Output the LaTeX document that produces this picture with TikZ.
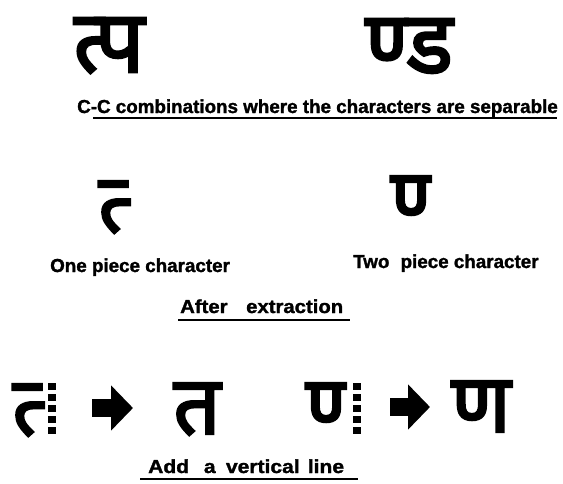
\documentclass[tikz,border=0pt]{standalone}
\usepackage{fontspec}
\setmainfont{Liberation Sans}
\newfontfamily\deva[Script=Devanagari,FakeBold=3]{Noto Sans}
\newfontfamily\lblfont[FakeBold=1.5]{Liberation Sans Bold}
\usetikzlibrary{arrows.meta}
\begin{document}
\begin{tikzpicture}[x=1pt,y=-1pt,
  glyph/.style={font=\deva\fontsize{82}{82}\selectfont, inner sep=0pt, anchor=base},
  bigglyph/.style={glyph, font=\deva\fontsize{87}{87}\selectfont},
  lbl/.style={font=\lblfont\fontsize{18.8}{18.8}\selectfont, inner sep=0pt, anchor=base west},
  uline/.style={line width=2pt},
  dotline/.style={line width=8pt, dash pattern=on 7pt off 4pt},
  blockarrow/.style={line width=18pt, -{Triangle[length=22pt,width=44pt]}}]
\useasboundingbox[fill=white] (0,0) rectangle (563,483);
% top row
\node[bigglyph] (tpa) at (109,72) {त्प};
\node[bigglyph] (nda) at (409,73) {ण्ड};
\node[lbl] (cap) at (77,113) {C-C combinations where the characters are separable};
\draw[uline] (93,118) -- (557,118);
% middle row
\node[glyph] (halft) at (113,232) {त्^^^^200d};
\node[glyph] (halfn) at (410,227) {ण्^^^^200d};
\node[lbl] (one) at (50,272) {One piece character};
\node[lbl] (two) at (353,268) {Two\hspace{6pt} piece character};
\node[lbl] (ext) at (180,313) {\scalebox{1.08}[1]{After\hspace{12pt} extraction}};
\draw[uline] (178,320) -- (350,320);
% bottom row
\node[glyph] (bt1) at (27,435) {त्^^^^200d};
\coordinate (d1a) at (52,383);
\coordinate (d1b) at (52,435);
\draw[dotline] (d1a) -- (d1b);
\coordinate (a1s) at (92,408);
\coordinate (a1e) at (133,408);
\draw[blockarrow] (a1s) -- (a1e);
\node[glyph] (bt2) at (197,434) {त};
\node[glyph] (bn1) at (325,434) {ण्^^^^200d};
\coordinate (d2a) at (357,383);
\coordinate (d2b) at (357,435);
\draw[dotline] (d2a) -- (d2b);
\coordinate (a2s) at (390,407);
\coordinate (a2e) at (430,407);
\draw[blockarrow] (a2s) -- (a2e);
\node[glyph] (bn2) at (481,432) {ण};
\node[lbl] (add) at (148,473) {\scalebox{1.12}[1]{Add\hspace{8pt} a\hspace{4pt} vertical\hspace{2pt} line}};
\draw[uline] (140,479) -- (358,479);
\end{tikzpicture}
\end{document}
